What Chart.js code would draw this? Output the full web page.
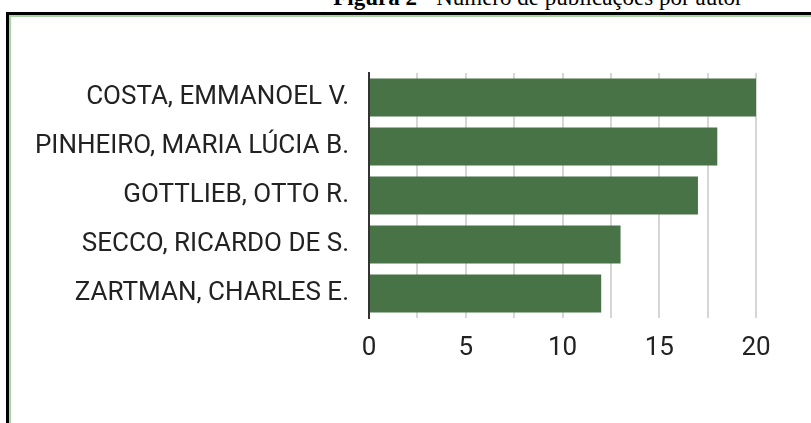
<!DOCTYPE html>
<html>
<head>
<meta charset="utf-8">
<script src="https://cdn.jsdelivr.net/npm/chart.js@4"></script>
<style>
  html, body { margin: 0; padding: 0; background: #fff; }
  body { width: 811px; height: 423px; position: relative; overflow: hidden; }
  #title {
    position: absolute; left: 0; width: 1076px; top: -15px;
    text-align: center; font-family: "Liberation Serif", serif; font-size: 23px;
    color: #000; white-space: nowrap;
  }
  #frame {
    position: absolute; left: 6px; top: 12px; width: 900px; height: 500px;
    border-left: 3px solid #000; border-top: 3px solid #000;
  }
  #frame .inner {
    position: absolute; left: 0; top: 0; right: 0; bottom: 0;
    border-left: 2px solid #a9d6a0; border-top: 2px solid #a9d6a0;
  }
  #wrap { position: absolute; left: 0; top: 0; width: 811px; height: 423px; }
</style>
</head>
<body>
<div id="title"><b>Figura 2 -</b> Número de publicações por autor</div>
<div id="frame"><div class="inner"></div></div>
<div id="wrap"><canvas id="myChart"></canvas></div>
<script>
// Dados do gráfico
const autores = ['COSTA, EMMANOEL V.', 'PINHEIRO, MARIA LÚCIA B.', 'GOTTLIEB, OTTO R.', 'SECCO, RICARDO DE S.', 'ZARTMAN, CHARLES E.'];
const publicacoes = [20, 18, 17, 13, 12];
const rotulosX = [0, 5, 10, 15, 20];

document.addEventListener('DOMContentLoaded', () => {
    const ctx = document.getElementById('myChart').getContext('2d');
    const fonte = { family: 'Roboto', size: 26 };

    new Chart(ctx, {
        type: 'bar',
        data: {
            labels: autores,
            datasets: [{
                data: publicacoes,
                backgroundColor: '#487346',
                borderWidth: 0,
                barPercentage: 0.78,
                categoryPercentage: 1
            }]
        },
        options: {
            indexAxis: 'y',
            responsive: true,
            maintainAspectRatio: false,
            animation: false,
            layout: { padding: { top: 73, right: 55, bottom: 45, left: 0 } },
            plugins: { legend: { display: false }, tooltip: { enabled: false } },
            scales: {
                x: {
                    min: 0,
                    max: 20,
                    afterFit: (scale) => { scale.height = 60; },
                    ticks: {
                        stepSize: 2.5,
                        autoSkip: false,
                        maxRotation: 0,
                        padding: 15,
                        color: '#222',
                        font: fonte,
                        callback: (v) => rotulosX.includes(v) ? String(v) : ''
                    },
                    grid: { color: '#d6d6d6', lineWidth: 2, drawTicks: false },
                    border: { display: false }
                },
                y: {
                    afterFit: (scale) => { scale.width = 369; },
                    ticks: { padding: 20, color: '#222', font: fonte },
                    grid: { display: false, drawTicks: false },
                    border: { display: true, color: '#333', width: 2 }
                }
            }
        }
    });
});
</script>
</body>
</html>
